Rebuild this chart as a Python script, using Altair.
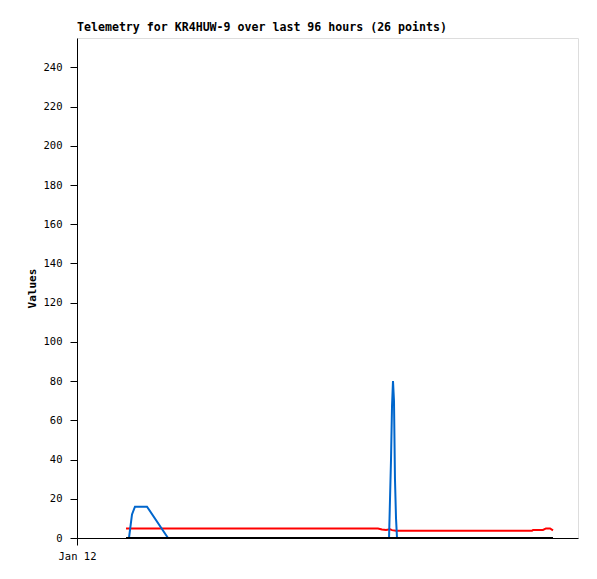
import altair as alt
import pandas as pd

# hours since Jan 12 00:00 (x domain 0..96)
red_t = [9.39, 57.67, 58.44, 59.21, 59.98, 60.36, 61.13, 87.19, 87.38, 89.29, 89.87, 90.64, 91.21]
red_v = [4.8, 4.8, 4.3, 4.1, 4.5, 4.0, 3.7, 3.7, 4.1, 4.1, 4.9, 4.9, 3.9]

blue_t = [9.96, 10.54, 11.11, 13.41, 17.44, 59.79, 60.17, 60.36, 60.55, 60.74, 60.93, 61.13, 61.32, 91.21]
blue_v = [0, 12, 16, 16, 0, 0, 40, 67, 80, 70, 30, 10, 0, 0]

black_t = [9.39, 91.21]
black_v = [0, 0]

y_ticks = list(range(0, 241, 20))

red = pd.DataFrame({"t": red_t, "v": red_v})
blue = pd.DataFrame({"t": blue_t, "v": blue_v})
black = pd.DataFrame({"t": black_t, "v": black_v})

font = "DejaVu Sans Mono"

xenc = alt.X("t:Q", scale=alt.Scale(domain=[0, 96], nice=False, zero=False),
             axis=alt.Axis(values=[0], labelExpr="'Jan 12'", title=None, grid=False,
                           tickSize=7, labelPadding=6, labelFont=font, labelFontSize=10.5,
                           labelAlign="center", labelFlush=False,
                           labelColor="black", domainColor="black", tickColor="black"))
yenc = alt.Y("v:Q", scale=alt.Scale(domain=[0, 255], nice=False),
             axis=alt.Axis(values=y_ticks, title="Values", grid=False, tickSize=7,
                           labelPadding=8, labelFont=font, labelFontSize=10.5,
                           labelColor="black", domainColor="black", tickColor="black",
                           titleFont=font, titleFontSize=11, titleFontWeight="bold",
                           titleX=-45, titleY=250, titleAngle=-90, titleAlign="center",
                           titleBaseline="middle"))

l_red = alt.Chart(red).mark_line(color="#FF0000", strokeWidth=2).encode(x=xenc, y=yenc)
l_blue = alt.Chart(blue).mark_line(color="#0066CC", strokeWidth=2).encode(x=xenc, y=yenc)
l_black = alt.Chart(black).mark_line(color="#000000", strokeWidth=2).encode(x=xenc, y=yenc)

chart = alt.layer(l_red, l_blue, l_black).properties(
    width=501, height=500,
    autosize=alt.AutoSizeParams(type="none"),
    padding={"left": 69, "top": 30, "right": 10, "bottom": 30},
    title=alt.TitleParams("Telemetry for KR4HUW-9 over last 96 hours (26 points)",
                          anchor="start", frame="group", font=font, fontSize=11.6,
                          fontWeight="bold", color="black", offset=4),
).configure_view(stroke="#333333", strokeOpacity=1, strokeWidth=1).configure(background="white")

chart.save("out.html", embed_options={"renderer": "svg", "actions": False})
